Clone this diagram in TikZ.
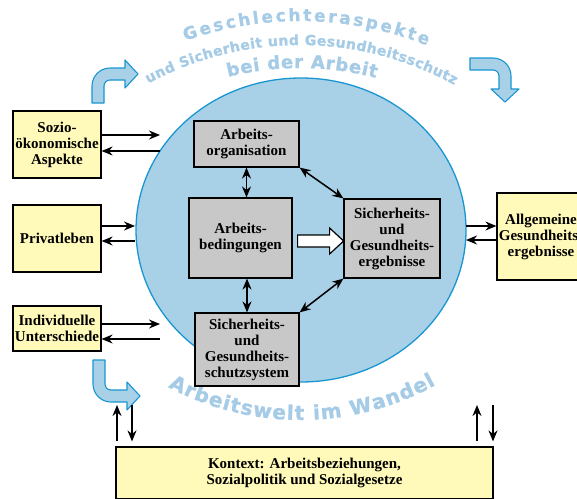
\documentclass[tikz,border=0pt]{standalone}
\usepackage{fontspec}
\setmainfont{Liberation Serif}
\newfontfamily\arcfont{DejaVu Sans}[BoldFeatures={FakeBold=1.2}]
\usetikzlibrary{arrows.meta,decorations.text,shapes.geometric}
\definecolor{wblue}{RGB}{168,208,230}
\definecolor{wline}{RGB}{25,150,210}
\definecolor{wtext}{RGB}{165,203,230}
\definecolor{wyellow}{RGB}{255,250,185}
\definecolor{wgray}{RGB}{200,200,200}

\newcommand{\arcsize}[1]{\arcfont\bfseries\fontsize{#1}{#1}\selectfont}
% bent block arrow: #1 first leg, #2 second leg
\newcommand{\bentarrow}[2]{%
  \draw[bent] (0,0) -- (0,#1) arc[start angle=180,end angle=90,radius=18]
    -- ++(#2,0) -- ++(0,8) -- ++(13,-14) -- ++(-13,-14) -- ++(0,8)
    -- ++(-#2,0) arc[start angle=90,end angle=180,radius=6] -- (12,0) -- cycle;}

\begin{document}
\begin{tikzpicture}[x=1pt, y=-1pt,
  box/.style={draw, line width=1.2pt, align=center, inner sep=1pt,
    font=\bfseries\fontsize{15}{16}\selectfont},
  outer/.style={box, fill=wyellow},
  inner/.style={box, fill=wgray},
  arr/.style={line width=1.5pt, -{Stealth[length=11pt,width=9pt]}},
  darr/.style={line width=1.5pt, {Stealth[length=11pt,width=9pt]}-{Stealth[length=11pt,width=9pt]}},
  bent/.style={draw=wline, fill=wblue, line width=1.1pt, line join=round},
  arctext/.style={decorate, decoration={text along path, text align={fit to path}, text color=wtext}}]
\useasboundingbox (0,0) rectangle (577,498);

% Bent arrows round the circle
\begin{scope}[shift={(92,103)}, yscale=-1]
  \bentarrow{17}{15}
\end{scope}
\begin{scope}[shift={(470,58)}, cm={0,-1,-1,0,(0,0)}]
  \bentarrow{23}{13}
\end{scope}
\begin{scope}[shift={(93,360)}]
  \bentarrow{24}{16}
\end{scope}

% Curved titles
\path[arctext, decoration={text={|\arcsize{17}|Geschlechteraspekte}}]
  (300,363) ++(250.4:342) arc[start angle=250.4, end angle=291.8, radius=342];
\path[arctext, decoration={text={|\arcsize{14}|und Sicherheit und Gesundheitsschutz}}]
  (300,363) ++(241.5:318) arc[start angle=241.5, end angle=299, radius=318];
\path[arctext, decoration={text={|\arcsize{18}|bei der Arbeit}}]
  (300,363) ++(255.9:295) arc[start angle=255.9, end angle=284.9, radius=295];
\path[arctext, decoration={text={|\arcsize{20}|Arbeitswelt im Wandel}}]
  (300,140) ++(118.1:280) arc[start angle=118.1, end angle=61, radius=280];

% The working world
\node[ellipse, draw=wline, fill=wblue, line width=1.3pt, minimum width=330pt,
  minimum height=304pt, inner sep=0pt] (world) at (301,230) {};

% Inner boxes
\node[inner, minimum width=105pt, minimum height=46pt] (org) at (246.5,144) {Arbeits-\\organisation};
\node[inner, minimum width=103pt, minimum height=80pt] (bed) at (240.5,238) {Arbeits-\\bedingungen};
\node[inner, minimum width=104pt, minimum height=73pt] (sys) at (247,349.5) {Sicherheits-\\und\\Gesundheits-\\schutzsystem};
\node[inner, minimum width=96pt, minimum height=79pt] (erg) at (392,238.5) {Sicherheits-\\und\\Gesundheits-\\ergebnisse};

\draw[darr] (org.south) -- (org.south |- bed.north);
\draw[darr] (bed.south -| sys.north) -- (sys.north);
\draw[darr] (org.south east) -- (erg.north west);
\draw[darr] (sys.north east) -- (erg.south west);
\draw[line width=1.2pt, fill=white] ([xshift=5pt,yshift=-3pt]bed.east) -- ++(0,-6) -- ++(32,0)
  -- ++(0,-7) -- ++(14,13) -- ++(-14,13) -- ++(0,-7) -- ++(-32,0) -- cycle;

% Outer boxes
\node[outer, minimum width=88pt, minimum height=67pt] (sozio) at (57,144.5) {Sozio-\\ökonomische\\Aspekte};
\node[outer, minimum width=88pt, minimum height=67pt] (priv) at (57,238.5) {Privatleben};
\node[outer, minimum width=88pt, minimum height=45pt] (indiv) at (57,328.5) {Individuelle\\Unterschiede};
\node[outer, minimum width=88pt, minimum height=87pt] (allg) at (541,236.5) {Allgemeine\\Gesundheits-\\ergebnisse};
\node[outer, minimum width=377pt, minimum height=52pt] (kontext) at (304.5,473) {Kontext: Arbeitsbeziehungen,\\Sozialpolitik und Sozialgesetze};

% Arrow ends at the circle
\coordinate (sozin) at (160,135);
\coordinate (sozout) at (160,151);
\coordinate (privin) at (135,226);
\coordinate (privout) at (135,241);
\coordinate (indin) at (160,324);
\coordinate (indout) at (160,339);
\coordinate (allin) at (466,226);
\coordinate (allout) at (466,240);
\coordinate (kup1) at (117,405);
\coordinate (kdn1) at (132,405);
\coordinate (kup2) at (477,405);
\coordinate (kdn2) at (493,405);

\draw[arr] (sozio.east |- sozin) -- (sozin);
\draw[arr] (sozout) -- (sozio.east |- sozout);
\draw[arr] (priv.east |- privin) -- (privin);
\draw[arr] (privout) -- (priv.east |- privout);
\draw[arr] (indiv.east |- indin) -- (indin);
\draw[arr] (indout) -- (indiv.east |- indout);
\draw[arr] (allin) -- (allg.west |- allin);
\draw[arr] (allg.west |- allout) -- (allout);
\draw[arr, shorten <=5pt] (kontext.north -| kup1) -- (kup1);
\draw[arr, shorten >=5pt] (kdn1) -- (kontext.north -| kdn1);
\draw[arr, shorten <=5pt] (kontext.north -| kup2) -- (kup2);
\draw[arr, shorten >=5pt] (kdn2) -- (kontext.north -| kdn2);
\end{tikzpicture}
\end{document}
